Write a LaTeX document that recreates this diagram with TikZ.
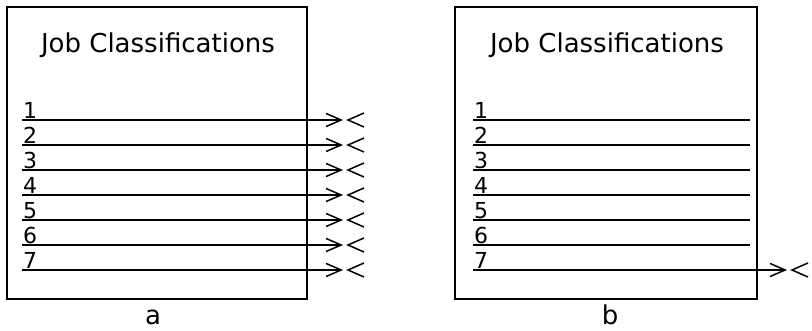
\documentclass[tikz,border=0pt]{standalone}
\usepackage{fontspec}
\setmainfont{DejaVu Sans}
\usetikzlibrary{arrows.meta,positioning}

\tikzset{
	frame/.style={line width=1.5pt},
	row/.style={line width=1.3pt},
	plug/.style={row,-{Straight Barb[length=15pt,width=13pt,line width=1.5pt]}},
	socket/.style={line width=1.5pt},
	num/.style={anchor=south west,inner sep=1pt,font=\fontsize{22}{24}\selectfont},
	title/.style={anchor=base,inner sep=1pt,font=\fontsize{26}{30}\selectfont},
	caption/.style={anchor=base,inner sep=0pt,font=\fontsize{26}{28}\selectfont}
}

\begin{document}
\begin{tikzpicture}[x=1pt,y=-1pt]
		\useasboundingbox (0,0) rectangle (812,331);
		% a
		\draw[frame] (7,7) rectangle (307,299);
		\node[title] (titleA) at (158,53) {Job Classifications};
		\foreach \i in {1,...,7}{
			\coordinate (startA\i) at (22,{95+25*\i});
			\coordinate (endA\i) at (343,{95+25*\i});
			\node[num] (numA\i) at (startA\i) {\i};
			\draw[plug] (startA\i) -- (endA\i);
			\draw[socket] (endA\i) ++(21,-7) -- ++(-16,7) -- ++(16,7);
		}
		\node[caption] (capA) at (153,325) {a};
		
		% b
		\draw[frame] (455,7) rectangle (757,299);
		\node[title] (titleB) at (607,53) {Job Classifications};
		\foreach \i in {1,...,6}{
			\coordinate (startB\i) at (473,{95+25*\i});
			\coordinate (endB\i) at (750,{95+25*\i});
			\node[num] (numB\i) at (startB\i) {\i};
			\draw[row] (startB\i) -- (endB\i);
		}
		\coordinate (startB7) at (473,270);
		\coordinate (endB7) at (787,270);
		\node[num] (numB7) at (startB7) {7};
		\draw[plug] (startB7) -- (endB7);
		\draw[socket] (endB7) ++(21,-7) -- ++(-16,7) -- ++(16,7);
		\node[caption] (capB) at (610,325) {b};
	\end{tikzpicture}
\end{document}
